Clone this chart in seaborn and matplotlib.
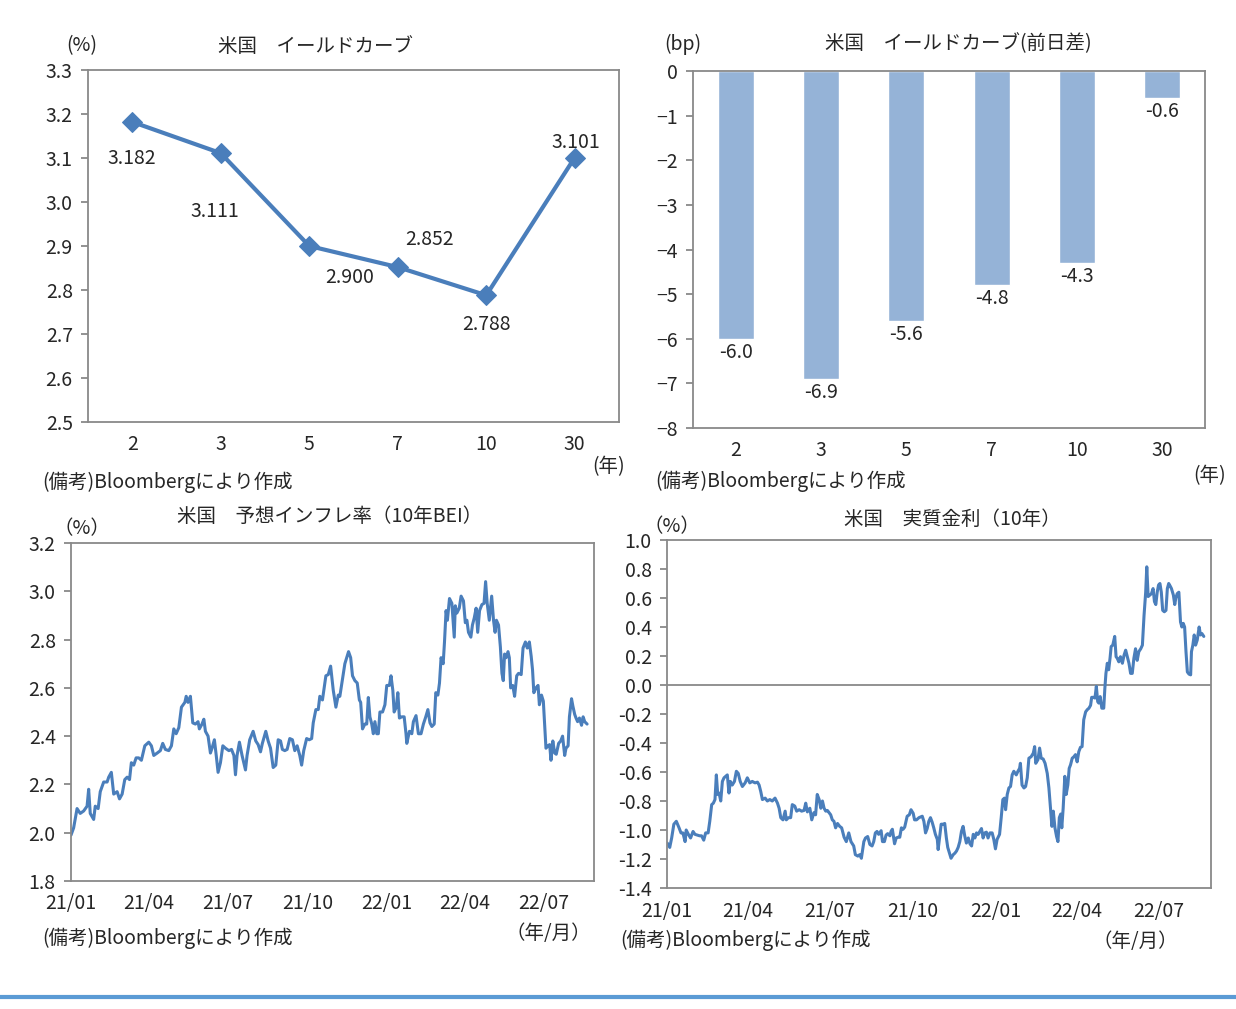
import numpy as np
import pandas as pd
import matplotlib
matplotlib.use("Agg")
import matplotlib.pyplot as plt
import matplotlib.dates as mdates
from matplotlib.lines import Line2D
from matplotlib.ticker import FuncFormatter
import seaborn as sns

# 年限
maturity = ["2", "3", "5", "7", "10", "30"]
# 米国イールドカーブ(%)
yield_pct = [3.182, 3.111, 2.900, 2.852, 2.788, 3.101]
# 前日差(bp)
yield_chg = [-6.0, -6.9, -5.6, -4.8, -4.3, -0.6]

# 10年BEI(%) : 2021年1月初からの経過月数
bei_month = [
    0.00, 0.10, 0.23, 0.35, 0.48, 0.61, 0.67, 0.73, 0.86, 0.92, 1.03, 1.11, 1.24, 1.37, 1.43,
    1.53, 1.62, 1.75, 1.84, 1.94, 2.04, 2.13, 2.22, 2.29, 2.38, 2.47, 2.57, 2.67, 2.80, 2.95,
    3.05, 3.14, 3.27, 3.39, 3.48, 3.58, 3.71, 3.81, 3.90, 3.99, 4.09, 4.19, 4.32, 4.37, 4.44,
    4.53, 4.62, 4.72, 4.82, 4.87, 4.97, 5.04, 5.10, 5.20, 5.29, 5.35, 5.44, 5.51, 5.58, 5.67,
    5.76, 5.86, 5.99, 6.09, 6.18, 6.24, 6.30, 6.39, 6.49, 6.62,
    6.68, 6.78, 6.91, 7.01, 7.10, 7.19, 7.26, 7.39, 7.48, 7.57, 7.67, 7.77, 7.86, 7.95, 8.02,
    8.11, 8.20, 8.30, 8.40, 8.49, 8.58, 8.68, 8.75, 8.83, 8.94, 9.04, 9.13, 9.19, 9.29, 9.38,
    9.44, 9.54, 9.67, 9.76, 9.85, 9.95, 10.05, 10.14, 10.20, 10.30, 10.39, 10.46, 10.53, 10.61,
    10.68, 10.77, 10.86, 10.94, 10.99, 11.06, 11.15, 11.22, 11.28, 11.34, 11.41, 11.47, 11.53,
    11.60, 11.66, 11.72, 11.82, 11.91, 11.98, 12.08, 12.14, 12.21, 12.26, 12.34, 12.40, 12.46,
    12.55, 12.64, 12.71, 12.74, 12.84, 12.93, 12.99, 13.09,
    13.18, 13.28, 13.37, 13.46, 13.54, 13.62, 13.69, 13.78, 13.84, 13.92, 13.98, 14.04, 14.12,
    14.17, 14.23, 14.28, 14.36, 14.45, 14.54, 14.58, 14.64, 14.73, 14.80, 14.89, 14.96, 15.02,
    15.08, 15.17, 15.23, 15.30, 15.37, 15.43, 15.50, 15.59, 15.67, 15.73, 15.79, 15.87, 15.96,
    16.03, 16.09, 16.14, 16.22, 16.29, 16.35, 16.40, 16.45, 16.51, 16.58, 16.63, 16.68, 16.76,
    16.83, 16.91, 16.98, 17.08, 17.15, 17.24, 17.31, 17.39, 17.46, 17.51, 17.56, 17.64, 17.72,
    17.77, 17.85, 17.92, 17.98, 18.02, 18.10, 18.16, 18.21, 18.28, 18.35, 18.41, 18.50, 18.58,
    18.65, 18.73, 18.78, 18.86, 18.91, 18.99, 19.04, 19.11, 19.16, 19.22, 19.29, 19.37, 19.43,
    19.49, 19.58,
]
bei_value = [
    1.99, 2.02, 2.10, 2.08, 2.09, 2.11, 2.18, 2.08, 2.055, 2.11, 2.10, 2.17, 2.21, 2.21, 2.23,
    2.25, 2.16, 2.17, 2.14, 2.16, 2.22, 2.23, 2.22, 2.29, 2.28, 2.31, 2.31, 2.30, 2.36, 2.375,
    2.36, 2.32, 2.33, 2.34, 2.37, 2.345, 2.34, 2.36, 2.43, 2.41, 2.435, 2.52, 2.54, 2.565, 2.54,
    2.565, 2.455, 2.45, 2.46, 2.43, 2.45, 2.47, 2.42, 2.40, 2.33, 2.35, 2.385, 2.32, 2.25, 2.29,
    2.36, 2.35, 2.34, 2.345, 2.32, 2.24, 2.32, 2.375, 2.32, 2.26,
    2.32, 2.385, 2.42, 2.38, 2.365, 2.335, 2.37, 2.42, 2.38, 2.35, 2.27, 2.28, 2.385, 2.38, 2.345,
    2.34, 2.345, 2.39, 2.385, 2.34, 2.36, 2.32, 2.28, 2.34, 2.39, 2.385, 2.39, 2.455, 2.51, 2.51,
    2.565, 2.55, 2.65, 2.655, 2.69, 2.59, 2.52, 2.57, 2.565, 2.635, 2.70, 2.725, 2.75, 2.725,
    2.65, 2.63, 2.62, 2.55, 2.54, 2.43, 2.45, 2.45, 2.56, 2.48, 2.45, 2.41, 2.46,
    2.41, 2.41, 2.50, 2.50, 2.53, 2.61, 2.61, 2.65, 2.59, 2.50, 2.52, 2.58, 2.475,
    2.48, 2.48, 2.41, 2.37, 2.42, 2.41, 2.46, 2.485,
    2.41, 2.41, 2.45, 2.48, 2.51, 2.455, 2.44, 2.45, 2.58, 2.57, 2.62, 2.725, 2.70,
    2.79, 2.92, 2.88, 2.97, 2.95, 2.81, 2.94, 2.91, 2.93, 2.98, 2.96, 2.87, 2.88,
    2.83, 2.81, 2.86, 2.89, 2.93, 2.83, 2.92, 2.945, 2.95, 3.04, 2.95, 2.88, 2.98,
    2.88, 2.83, 2.88, 2.86, 2.77, 2.66, 2.63, 2.74, 2.725, 2.75, 2.725, 2.60, 2.61,
    2.565, 2.65, 2.66, 2.655, 2.765, 2.79, 2.765, 2.79, 2.73, 2.675, 2.58, 2.60, 2.61,
    2.53, 2.57, 2.545, 2.43, 2.35, 2.36, 2.365, 2.30, 2.38, 2.33, 2.325, 2.37, 2.38,
    2.40, 2.32, 2.35, 2.36, 2.48, 2.555, 2.525, 2.49, 2.475, 2.46, 2.475, 2.445, 2.48,
    2.46, 2.45,
]

# 10年実質金利(%) : 2021年1月初からの経過月数
real_month = [
    0.01, 0.10, 0.17, 0.25, 0.34, 0.44, 0.51, 0.58, 0.66, 0.70, 0.78, 0.86, 0.95, 1.02, 1.11,
    1.19, 1.26, 1.34, 1.41, 1.50, 1.56, 1.63, 1.69, 1.75, 1.80, 1.85, 1.90, 1.96, 2.02, 2.08,
    2.14, 2.20, 2.26, 2.31, 2.38, 2.46, 2.53, 2.60, 2.67, 2.75, 2.85, 2.93, 3.02, 3.11, 3.21,
    3.30, 3.36, 3.42, 3.48, 3.58, 3.66, 3.75, 3.84, 3.94, 4.03, 4.09, 4.15, 4.23, 4.31, 4.35,
    4.43, 4.51, 4.57, 4.66, 4.73, 4.82, 4.91, 5.00, 5.06, 5.12, 5.21, 5.28, 5.36, 5.42, 5.48,
    5.55, 5.61, 5.67, 5.73, 5.79, 5.85, 5.91, 5.97, 6.03, 6.09, 6.15, 6.22, 6.30, 6.37, 6.46,
    6.54,
    6.63, 6.71, 6.81, 6.87, 6.96, 7.03, 7.09, 7.18, 7.24, 7.32, 7.40, 7.48, 7.54, 7.60, 7.66,
    7.72, 7.81, 7.86, 7.93, 7.99, 8.05, 8.13, 8.17, 8.22, 8.30, 8.36, 8.43, 8.49, 8.55, 8.61,
    8.67, 8.76, 8.84, 8.90, 8.98, 9.03, 9.10, 9.19, 9.25, 9.31, 9.37, 9.43, 9.49, 9.55, 9.61,
    9.67, 9.73, 9.79, 9.86, 9.89, 9.94, 10.00, 10.07, 10.13, 10.19, 10.24, 10.31, 10.36, 10.44,
    10.50, 10.56, 10.62, 10.68, 10.74, 10.80, 10.86, 10.92, 10.99, 11.05, 11.11, 11.17, 11.23,
    11.29, 11.35, 11.41, 11.47, 11.53, 11.59, 11.65, 11.71, 11.78, 11.86, 11.92, 11.98, 12.04,
    12.13, 12.19, 12.25, 12.31, 12.35, 12.41, 12.47, 12.53, 12.59, 12.65, 12.74, 12.80, 12.86,
    12.89,
    12.95, 13.02, 13.08, 13.14, 13.20, 13.28, 13.36, 13.41, 13.45, 13.53, 13.59, 13.65, 13.72,
    13.79, 13.87, 13.93, 13.99, 14.04, 14.09, 14.15, 14.21, 14.26, 14.31, 14.36, 14.40, 14.45,
    14.51, 14.56, 14.62, 14.67, 14.72, 14.78, 14.84, 14.90, 14.96, 15.02, 15.08, 15.14, 15.20,
    15.27, 15.33, 15.39, 15.45, 15.49, 15.55, 15.61, 15.66, 15.71, 15.75, 15.80, 15.86, 15.93,
    15.97, 16.01, 16.06, 16.11, 16.16, 16.20, 16.26, 16.33, 16.38, 16.42, 16.48, 16.54, 16.61,
    16.67, 16.73, 16.79, 16.85, 16.91, 16.97, 17.03, 17.09, 17.15, 17.21, 17.28, 17.34, 17.40,
    17.46, 17.50, 17.55, 17.61, 17.67, 17.73, 17.78, 17.83, 17.88, 17.93, 17.98, 18.03, 18.08,
    18.14, 18.20, 18.25, 18.30, 18.36, 18.40, 18.47, 18.52, 18.56, 18.61, 18.67, 18.73, 18.78,
    18.83, 18.88, 18.93, 18.98, 19.04, 19.10, 19.13, 19.18, 19.23, 19.28, 19.34, 19.41, 19.46,
    19.51, 19.58,
]
real_value = [
    -1.09, -1.12, -1.055, -0.96, -0.94, -0.985, -1.02, -1.02, -1.08, -1.00, -1.03, -1.055, -1.01,
    -1.03, -1.035, -1.04, -1.04, -1.07, -1.02, -1.02, -0.94, -0.825, -0.815, -0.79, -0.62, -0.755,
    -0.745, -0.80, -0.665, -0.64, -0.63, -0.62, -0.745, -0.665, -0.69, -0.665, -0.595, -0.61,
    -0.665, -0.70, -0.675, -0.64, -0.675, -0.665, -0.675, -0.67, -0.69, -0.735, -0.79, -0.78,
    -0.80, -0.79, -0.80, -0.78, -0.815, -0.85, -0.915, -0.93, -0.87, -0.93, -0.915, -0.915,
    -0.825, -0.835, -0.87, -0.86, -0.87, -0.865, -0.815, -0.875, -0.85, -0.93, -0.88, -0.895,
    -0.755, -0.79, -0.85, -0.80, -0.85, -0.87, -0.865, -0.88, -0.895, -0.93, -0.94, -0.985,
    -0.955, -0.975, -0.985, -1.05, -1.08,
    -1.02, -1.08, -1.11, -1.17, -1.18, -1.17, -1.195, -1.08, -1.055, -1.045, -1.10, -1.11, -1.08,
    -1.02, -1.01, -1.03, -1.005, -1.08, -1.08, -1.035, -1.025, -1.04, -1.01, -0.995, -1.095,
    -1.055, -1.05, -1.05, -0.985, -0.995, -0.98, -0.905, -0.895, -0.86, -0.885, -0.93, -0.93,
    -0.915, -0.91, -0.905, -0.94, -1.02, -0.99, -0.94, -0.915, -0.945, -0.985, -1.03, -1.065,
    -1.135, -1.055, -0.96, -0.96, -0.955, -1.055, -1.12, -1.165, -1.195, -1.17, -1.16, -1.145,
    -1.12, -1.08, -1.01, -0.975, -1.04, -1.09, -1.055, -1.095, -1.11, -1.03, -1.055, -1.02,
    -1.03, -1.01, -0.99, -1.055, -1.02, -1.015, -1.055, -1.02, -1.02, -1.065, -1.13, -1.065,
    -1.03, -0.915, -0.79, -0.78, -0.86, -0.755, -0.71, -0.70, -0.62, -0.595, -0.62, -0.595,
    -0.575, -0.54,
    -0.69, -0.71, -0.70, -0.64, -0.505, -0.495, -0.47, -0.425, -0.54, -0.515, -0.435, -0.505,
    -0.51, -0.54, -0.61, -0.71, -0.85, -0.975, -0.87, -0.985, -1.045, -1.08, -0.915, -0.89,
    -0.985, -0.85, -0.63, -0.755, -0.69, -0.575, -0.55, -0.505, -0.495, -0.48, -0.53, -0.46,
    -0.43, -0.425, -0.24, -0.185, -0.17, -0.16, -0.14, -0.085, -0.085, -0.09, -0.01, -0.115,
    -0.125, -0.08, -0.16, -0.16, -0.025, 0.08, 0.15, 0.105, 0.185, 0.265, 0.275, 0.335, 0.195,
    0.185, 0.16, 0.195, 0.15, 0.205, 0.24, 0.195, 0.15, 0.08, 0.08, 0.185, 0.25, 0.17, 0.23,
    0.25, 0.275, 0.48, 0.64, 0.815, 0.61, 0.62, 0.63, 0.665, 0.575, 0.555, 0.64, 0.69, 0.70,
    0.64, 0.515, 0.505, 0.515, 0.665, 0.70, 0.68, 0.665, 0.62, 0.555, 0.60, 0.63, 0.64, 0.435,
    0.40, 0.425, 0.40, 0.23, 0.09, 0.075, 0.07, 0.23, 0.275, 0.345, 0.275, 0.31, 0.40, 0.345,
    0.355, 0.335,
]

sns.set_theme(style="white")
plt.rcParams['font.family'] = ['Noto Sans CJK JP', 'DejaVu Sans']
plt.rcParams['axes.unicode_minus'] = True

BLUE = '#4A7EBB'
BAR = '#95B3D7'
GRAY = '#898989'
FS = 14
W, H = 1236, 1009

fig = plt.figure(figsize=(W / 100, H / 100), dpi=100)
fig.patch.set_facecolor('white')

# 小数1桁 (−0.0 を 0.0 に)
one_dec = FuncFormatter(lambda v, p: '0.0' if abs(v) < 1e-9 else f'{v:.1f}')


def box(l, t, r, b):
    return fig.add_axes([l / W, 1 - b / H, (r - l) / W, (b - t) / H])


def style(ax):
    for s in ax.spines.values():
        s.set_visible(True)
        s.set_color(GRAY)
        s.set_linewidth(1.3)
    ax.tick_params(axis='y', left=True, length=5, width=1.3, color=GRAY, pad=6, labelsize=FS)
    ax.tick_params(axis='x', bottom=False, pad=3, labelsize=FS)
    ax.set_xlabel('')
    ax.set_ylabel('')
    ax.grid(False)


def label(x, y, s, ha='center'):
    fig.text(x / W, 1 - y / H, s, ha=ha, va='center', fontsize=FS)


start = pd.Timestamp('2021-01-01')
qticks = pd.date_range('2021-01-01', '2022-07-01', freq='QS')
note = '(備考)Bloombergにより作成'

# 米国 イールドカーブ
ax1 = box(88, 70, 619, 422)
df1 = pd.DataFrame({'maturity': maturity, 'yield': yield_pct})
sns.lineplot(data=df1, x='maturity', y='yield', ax=ax1, color=BLUE, lw=3, sort=False,
             marker='D', markersize=10, markeredgecolor=BLUE)
ax1.set_xlim(-0.5, 5.5)
ax1.set_ylim(2.5, 3.3)
ax1.set_yticks(np.arange(2.5, 3.31, 0.1))
ax1.yaxis.set_major_formatter(one_dec)
style(ax1)
offsets = [(0, -26), (-4, -42), (29, -23), (23, 20), (0, -21), (1, 11)]
pts = ax1.lines[0].get_xydata()
for (px, py), v, off in zip(pts, yield_pct, offsets):
    ax1.annotate(f'{v:.3f}', (px, py), xytext=off, textcoords='offset points',
                 ha='center', va='center', fontsize=FS)
label(315, 46, '米国　イールドカーブ')
label(82, 46, '(%)')
label(609, 467, '(年)')
label(42, 482, note, ha='left')

# 前日差
ax2 = box(693, 71, 1205, 428)
df2 = pd.DataFrame({'maturity': maturity, 'chg': yield_chg})
sns.barplot(data=df2, x='maturity', y='chg', ax=ax2, color=BAR, width=0.42, saturation=1)
ax2.bar_label(ax2.containers[0], fmt='%.1f', padding=2, fontsize=FS)
ax2.set_xlim(-0.5, 5.5)
ax2.set_ylim(-8, 0)
ax2.set_yticks(range(-8, 1))
style(ax2)
label(958, 44, '米国　イールドカーブ(前日差)')
label(683, 44, '(bp)')
label(1210, 476, '(年)')
label(655, 481, note, ha='left')

# 予想インフレ率
ax3 = box(71, 543, 594, 881)
df3 = pd.DataFrame({'date': start + pd.to_timedelta(np.array(bei_month) * 30.44, unit='D'),
                    'bei': bei_value})
sns.lineplot(data=df3, x='date', y='bei', ax=ax3, color=BLUE, lw=2.2)
ax3.set_xlim(start, start + pd.Timedelta(days=604))
ax3.set_ylim(1.8, 3.2)
ax3.set_yticks(np.arange(1.8, 3.21, 0.2))
ax3.yaxis.set_major_formatter(one_dec)
ax3.set_xticks(qticks)
ax3.xaxis.set_major_formatter(mdates.DateFormatter('%y/%m'))
style(ax3)
label(330, 517, '米国　予想インフレ率（10年BEI）')
label(82, 529, '（%）')
label(548, 934, '（年/月）')
label(42, 938, note, ha='left')

# 実質金利
ax4 = box(667, 540, 1211, 888)
df4 = pd.DataFrame({'date': start + pd.to_timedelta(np.array(real_month) * 30.44, unit='D'),
                    'real': real_value})
ax4.axhline(0, color=GRAY, lw=1.3)
sns.lineplot(data=df4, x='date', y='real', ax=ax4, color=BLUE, lw=2.2)
ax4.set_xlim(start, start + pd.Timedelta(days=604))
ax4.set_ylim(-1.4, 1.0)
ax4.set_yticks(np.arange(-1.4, 1.01, 0.2))
ax4.yaxis.set_major_formatter(one_dec)
ax4.set_xticks(qticks)
ax4.xaxis.set_major_formatter(mdates.DateFormatter('%y/%m'))
style(ax4)
label(952, 519, '米国　実質金利（10年）')
label(672, 527, '（%）')
label(1135, 942, '（年/月）')
label(620, 940, note, ha='left')

fig.add_artist(Line2D([0, 1], [1 - 997 / H, 1 - 997 / H], transform=fig.transFigure,
                      color='#5B9BD5', lw=3))

fig.savefig('out.png', dpi=100)
